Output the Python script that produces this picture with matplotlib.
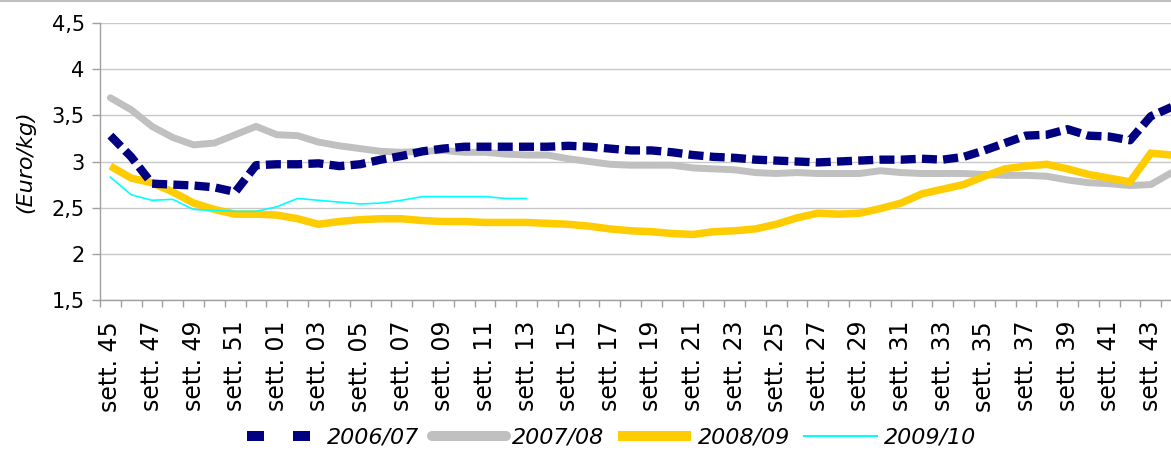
import matplotlib
matplotlib.use("Agg")
from matplotlib import pyplot as plt
from matplotlib.lines import Line2D
import numpy as np

# weeks 45 .. 52, 01 .. 44
weeks = list(range(45, 53)) + list(range(1, 45))
week_labels = ['sett. %02d' % w for w in weeks]

# Euro/kg, one value per week
s0607 = [3.28, 3.05, 2.76, 2.75, 2.74, 2.72, 2.67, 2.96, 2.97, 2.97,
         2.98, 2.95, 2.97, 3.02, 3.06, 3.11, 3.14, 3.16, 3.16, 3.16,
         3.16, 3.16, 3.17, 3.16, 3.14, 3.12, 3.12, 3.10, 3.07, 3.05,
         3.04, 3.02, 3.01, 3.00, 2.99, 3.00, 3.01, 3.02, 3.02, 3.03,
         3.02, 3.05, 3.12, 3.20, 3.28, 3.29, 3.35, 3.28, 3.27, 3.23,
         3.49, 3.59]
s0708 = [3.69, 3.56, 3.38, 3.26, 3.18, 3.20, 3.29, 3.38, 3.29, 3.28,
         3.21, 3.17, 3.14, 3.11, 3.10, 3.11, 3.12, 3.10, 3.10, 3.08,
         3.07, 3.07, 3.03, 3.00, 2.97, 2.96, 2.96, 2.96, 2.93, 2.92,
         2.91, 2.88, 2.87, 2.88, 2.87, 2.87, 2.87, 2.90, 2.88, 2.87,
         2.87, 2.87, 2.86, 2.85, 2.85, 2.84, 2.80, 2.77, 2.76, 2.74,
         2.75, 2.88]
s0809 = [2.95, 2.82, 2.77, 2.67, 2.55, 2.48, 2.43, 2.43, 2.42, 2.38,
         2.32, 2.35, 2.37, 2.38, 2.38, 2.36, 2.35, 2.35, 2.34, 2.34,
         2.34, 2.33, 2.32, 2.30, 2.27, 2.25, 2.24, 2.22, 2.21, 2.24,
         2.25, 2.27, 2.32, 2.39, 2.44, 2.43, 2.44, 2.49, 2.55, 2.65,
         2.70, 2.75, 2.84, 2.92, 2.95, 2.97, 2.92, 2.86, 2.82, 2.78,
         3.09, 3.07]
s0910 = [2.83, 2.64, 2.58, 2.59, 2.48, 2.47, 2.46, 2.46, 2.51, 2.60,
         2.58, 2.56, 2.54, 2.55, 2.58, 2.62, 2.62, 2.62, 2.62, 2.60,
         2.60]

navy = '#000080'
grey = '#C0C0C0'
yellow = '#FFCC00'
cyan = '#00FFFF'

fig = plt.figure(figsize=(11.71, 4.5), dpi=100)
# plot area runs past the right edge (the picture is cropped there)
ax = fig.add_axes([100/1171, 1 - 300/450, 1082/1171, 277/450])

x = np.arange(len(weeks))
l1, = ax.plot(x[:len(s0607)], s0607, color=navy, lw=6.0, dashes=(1.8, 0.75),
              dash_capstyle='butt', zorder=4)
l2, = ax.plot(x[:len(s0708)], s0708, color=grey, lw=5.0,
              solid_capstyle='round', solid_joinstyle='round', zorder=2)
l3, = ax.plot(x[:len(s0809)], s0809, color=yellow, lw=5.4,
              solid_capstyle='butt', solid_joinstyle='miter', zorder=3)
l4, = ax.plot(x[:len(s0910)], s0910, color=cyan, lw=1.2, zorder=5)

ax.set_xlim(-0.5, len(weeks) - 0.5)
ax.set_ylim(1.5, 4.5)
ax.set_yticks(np.arange(1.5, 4.51, 0.5))
ax.set_yticklabels([('%g' % v).replace('.', ',') for v in np.arange(1.5, 4.51, 0.5)])
ax.set_xticks(x[::2])
ax.set_xticklabels(week_labels[::2], rotation=90)
ax.set_xticks(np.arange(-0.5, len(weeks)), minor=True)
ax.tick_params(axis='x', which='major', length=0, pad=15, labelsize=17)
ax.tick_params(axis='x', which='minor', length=5, color='#A0A0A0', width=1)
ax.tick_params(axis='y', length=6, color='#A0A0A0', width=1, pad=5, labelsize=15)

ax.grid(axis='y', color='#C8C8C8', lw=1)
ax.set_axisbelow(True)
for s in ['top', 'right']:
    ax.spines[s].set_visible(False)
for s in ['left', 'bottom']:
    ax.spines[s].set_color('#A0A0A0')
    ax.spines[s].set_linewidth(1)

ax.set_ylabel('(Euro/kg)', fontsize=16, style='italic')
ax.yaxis.set_label_coords(-0.06, 0.5)

# legend handles (Excel draws the dashed one with long gaps)
h1 = Line2D([], [], color=navy, lw=7.2, dashes=(1.7, 2.9), dash_capstyle='butt')
h2 = Line2D([], [], color=grey, lw=7.2, solid_capstyle='round')
h3 = Line2D([], [], color=yellow, lw=7.2, solid_capstyle='butt')
h4 = Line2D([], [], color=cyan, lw=1.5)
leg = fig.legend([h1, h2, h3, h4], ['2006/07', '2007/08', '2008/09', '2009/10'],
                 ncol=4, loc='center', bbox_to_anchor=(0.522, 0.028),
                 frameon=False, prop={'size': 16, 'style': 'italic'},
                 handlelength=3.3, handletextpad=0.3, columnspacing=0.6)

# cropped chart border at the top
fig.add_artist(Line2D([0, 1], [0.998, 0.998], transform=fig.transFigure,
                      color='#BFBFBF', lw=1.5))

fig.savefig('out.png', dpi=100)
